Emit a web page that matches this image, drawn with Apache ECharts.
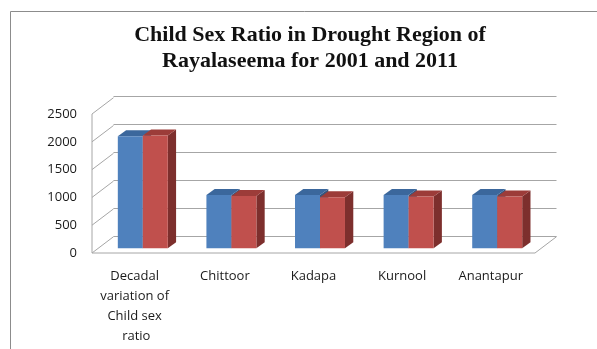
<!DOCTYPE html>
<html>
<head>
<meta charset="utf-8">
<script src="https://cdn.jsdelivr.net/npm/echarts@6/dist/echarts.min.js"></script>
<style>
html, body { margin: 0; padding: 0; background: #fff; }
#main { width: 597px; height: 349px; }
</style>
</head>
<body>
<div id="main"></div>
<script>
var categories = ['Decadal variation of Child sex ratio', 'Chittoor', 'Kadapa', 'Kurnool', 'Anantapur'];
var values2001 = [2015, 958, 958, 960, 960];
var values2011 = [2030, 940, 920, 932, 930];
var yTicks = [0, 500, 1000, 1500, 2000, 2500];

// depth of the 3d box (back wall offset from the front plane)
var DX = 21.5, DY = 16.3;
// bars stand a bit inside the floor, and have their own depth
var BAR_DX = 6.5, BAR_DY = 4.7;
var SIDE_DX = 8.3, SIDE_DY = 6;
var GRID_COLOR = '#a6a6a6';

function barRenderer(offset, front, top, side) {
    return function (params, api) {
        var c = api.coord([api.value(0), api.value(1)]);
        var b = api.coord([api.value(0), 0]);
        var w = api.size([1, 0])[0] * 0.282;
        var x0 = c[0] + offset * w + BAR_DX;
        var x1 = x0 + w;
        var yt = c[1] - BAR_DY;
        var yb = b[1] - BAR_DY;
        return {
            type: 'group',
            children: [
                {type: 'polygon', shape: {points: [[x1, yt], [x1 + SIDE_DX, yt - SIDE_DY], [x1 + SIDE_DX, yb - SIDE_DY], [x1, yb]]}, style: {fill: side}},
                {type: 'polygon', shape: {points: [[x0, yt], [x0 + SIDE_DX, yt - SIDE_DY], [x1 + SIDE_DX, yt - SIDE_DY], [x1, yt]]}, style: {fill: top}},
                {type: 'rect', shape: {x: x0, y: yt, width: w, height: yb - yt}, style: {fill: front}}
            ]
        };
    };
}

// side wall diagonals, front edge and floor outline
function wallRenderer(params, api) {
    var cs = params.coordSys;
    var y = api.coord([0, api.value(1)])[1];
    var children = [
        {type: 'line', shape: {x1: cs.x, y1: y, x2: cs.x + DX, y2: y - DY}, style: {stroke: GRID_COLOR, lineWidth: 1}}
    ];
    if (params.dataIndex === 0) {
        var L = cs.x, R = cs.x + cs.width, B = cs.y + cs.height;
        children.push({type: 'line', shape: {x1: L, y1: cs.y, x2: L, y2: B}, style: {stroke: GRID_COLOR, lineWidth: 1}});
        children.push({type: 'polyline', shape: {points: [[L, B], [R, B], [R + DX, B - DY]]}, style: {stroke: GRID_COLOR, lineWidth: 1, fill: null}});
    }
    return {type: 'group', children: children};
}

var myChart = echarts.init(document.getElementById('main'));

option = {
    backgroundColor: '#fff',
    animation: false,
    title: {
        text: 'Child Sex Ratio in Drought Region of\nRayalaseema for 2001 and 2011',
        left: 305,
        top: 17.5,
        textAlign: 'center',
        textStyle: {
            fontFamily: 'Liberation Serif',
            fontWeight: 'bold',
            fontSize: 22,
            lineHeight: 26,
            color: '#111'
        }
    },
    graphic: [
        {type: 'rect', shape: {x: 10.5, y: 11.5, width: 700, height: 500}, style: {stroke: '#8c8c8c', fill: null, lineWidth: 1}, silent: true}
    ],
    grid: [
        {left: 92, right: 62, top: 114, bottom: 96},
        {left: 113.5, right: 40.5, top: 96.7, bottom: 112.3}
    ],
    xAxis: [
        {
            type: 'category',
            gridIndex: 0,
            data: categories,
            axisLine: {show: false},
            axisTick: {show: false},
            axisLabel: {
                interval: 0,
                margin: 13,
                width: 80,
                overflow: 'break',
                lineHeight: 20,
                fontFamily: 'Open Sans',
                fontSize: 13,
                color: '#1a1a1a'
            }
        },
        {type: 'category', gridIndex: 1, data: categories, show: false}
    ],
    yAxis: [
        {
            type: 'value',
            gridIndex: 0,
            min: 0,
            max: 2500,
            interval: 500,
            axisLine: {show: false},
            axisTick: {show: false},
            splitLine: {show: false},
            axisLabel: {
                margin: 15,
                fontFamily: 'Open Sans',
                fontSize: 13,
                color: '#1a1a1a',
                formatter: function (v) { return String(v); }
            }
        },
        {
            type: 'value',
            gridIndex: 1,
            min: 0,
            max: 2500,
            interval: 500,
            axisLine: {show: false},
            axisTick: {show: false},
            axisLabel: {show: false},
            splitLine: {lineStyle: {color: GRID_COLOR, width: 1}}
        }
    ],
    series: [
        {
            name: 'walls',
            type: 'custom',
            xAxisIndex: 0,
            yAxisIndex: 0,
            silent: true,
            z: 1,
            data: yTicks.map(function (v) { return [0, v]; }),
            renderItem: wallRenderer
        },
        {
            name: '2001',
            type: 'custom',
            xAxisIndex: 0,
            yAxisIndex: 0,
            z: 2,
            data: values2001.map(function (v, i) { return [i, v]; }),
            renderItem: barRenderer(-1, '#4f81bd', '#3b679c', '#34567f')
        },
        {
            name: '2011',
            type: 'custom',
            xAxisIndex: 0,
            yAxisIndex: 0,
            z: 3,
            data: values2011.map(function (v, i) { return [i, v]; }),
            renderItem: barRenderer(0, '#c0504d', '#9c3c39', '#7d2f2d')
        }
    ]
};

myChart.setOption(option);
</script>
</body>
</html>
